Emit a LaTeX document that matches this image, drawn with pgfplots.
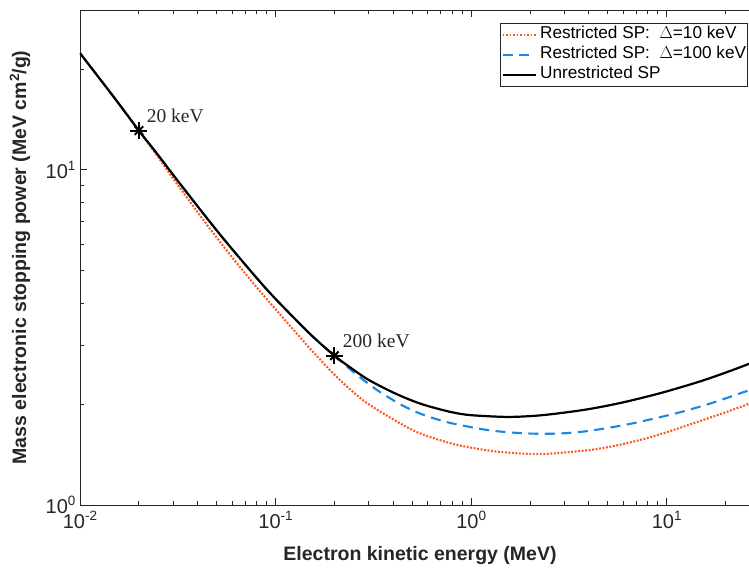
\documentclass[border=0pt]{standalone}
\usepackage{fontspec}
\setmainfont{Liberation Sans}
\newfontfamily\timesfont{Liberation Serif}
\usepackage{pgfplots}
\pgfplotsset{compat=1.18}
\definecolor{myorange}{RGB}{255,85,25}
\definecolor{myblue}{RGB}{25,135,230}
\definecolor{axgray}{RGB}{38,38,38}
\newcommand{\tl}[1]{10\raisebox{8pt}{\fontsize{13.5}{13.5}\selectfont #1}}

\begin{document}
\begin{tikzpicture}[x=1pt,y=1pt]
\begin{axis}[
 at={(80pt,69pt)}, anchor=south west,
 scale only axis, width=680pt, height=495pt,
 xmode=log, ymode=log, xmin=0.01, xmax=30, ymin=1, ymax=30,
 xtick={0.01,0.1,1,10}, xticklabels={\tl{-2},\tl{-1},\tl{0},\tl{1}},
 ytick={1,10}, yticklabels={\tl{0},\tl{1}},
 minor xtick={0.02,0.03,0.04,0.05,0.06,0.07,0.08,0.09,0.2,0.3,0.4,0.5,0.6,0.7,0.8,0.9,2,3,4,5,6,7,8,9,20,30},
 minor ytick={2,3,4,5,6,7,8,9,20,30},
 tick align=inside, major tick length=7pt, minor tick length=4pt,
 axis line style={axgray, line width=0.8pt},
 every tick/.style={axgray, line width=0.8pt},
 ticklabel style={font=\fontsize{20}{22}\selectfont, text=axgray},
 xticklabel style={yshift=-3pt},
 yticklabel style={xshift=-1pt},
 xlabel={\bfseries Electron kinetic energy (MeV)},
 ylabel={\bfseries Mass electronic stopping power (MeV cm\raisebox{7pt}{\fontsize{13.5}{13.5}\selectfont 2}/g)},
 label style={font=\fontsize{19.5}{22}\selectfont, text=axgray},
 xlabel style={at={(axis description cs:0.5,-0.103)}, anchor=center},
 ylabel style={at={(axis description cs:-0.0882,0.5)}, anchor=center},
 legend style={at={(rel axis cs:0.98235,0.9737)}, anchor=north east,
   draw=axgray, line width=0.8pt, fill=white,
   font=\fontsize{17.2}{21}\selectfont, inner xsep=1.5pt, inner ysep=2.5pt,
   row sep=2pt, nodes={inner sep=0pt, text height=13pt, text depth=5pt},
   /tikz/every odd column/.append style={column sep=3.5pt}},
 legend cell align=left,
 legend image code/.code={\draw[#1] (0pt,0pt) -- (33pt,0pt);},
]
\addplot[myorange, line width=2.1pt, dash pattern=on 1.9pt off 1.6pt, smooth] coordinates {
(0.01,22.3) (0.015,16.4) (0.02,13.1) (0.025,10.96) (0.03,9.41) (0.04,7.47) (0.05,6.28) (0.06,5.48) (0.08,4.465) (0.1,3.84) (0.15,2.93) (0.2,2.45) (0.25,2.17) (0.3,1.997) (0.4,1.80) (0.5,1.675) (0.6,1.604) (0.8,1.524) (1.0,1.483) (1.39,1.441) (2.23,1.419) (3.71,1.451) (5,1.488) (6.68,1.543) (9,1.618) (12.05,1.71) (20,1.891) (26.4,2.005) (30,2.062)};
\addlegendentry{Restricted SP:\ \ $\Delta$=10 keV}
\addplot[myblue, line width=2.1pt, dash pattern=on 10pt off 6.5pt, smooth] coordinates {
(0.01,22.3) (0.015,16.4) (0.02,13.1) (0.025,11.1) (0.03,9.65) (0.04,7.78) (0.05,6.60) (0.06,5.80) (0.08,4.76) (0.1,4.12) (0.15,3.24) (0.2,2.79) (0.25,2.495) (0.3,2.295) (0.35,2.154) (0.433,2.00) (0.5,1.918) (0.6,1.839) (0.781,1.758) (1.143,1.683) (1.5,1.651) (2.06,1.633) (2.8,1.634) (3.71,1.655) (5,1.698) (6.68,1.752) (9,1.822) (12.05,1.900) (17,2.015) (23.5,2.15) (26.4,2.199) (30,2.258)};
\addlegendentry{Restricted SP:\ \ $\Delta$=100 keV}
\addplot[black, line width=2.2pt, smooth] coordinates {
(0.01,22.3) (0.015,16.4) (0.02,13.1) (0.025,11.1) (0.03,9.65) (0.04,7.78) (0.05,6.60) (0.06,5.80) (0.08,4.76) (0.1,4.12) (0.15,3.24) (0.2,2.79) (0.25,2.534) (0.3,2.36) (0.4,2.165) (0.5,2.048) (0.6,1.975) (0.8,1.891) (1.0,1.854) (1.5,1.832) (2.0,1.842) (2.5,1.863) (3.5,1.910) (4.5,1.957) (6,2.025) (8,2.109) (10,2.183) (14.65,2.333) (20,2.483) (26.4,2.639) (30,2.719)};
\addlegendentry{Unrestricted SP}
\addplot[only marks, mark=+, mark size=8.5pt, line width=2pt, black, forget plot] coordinates {(0.02,13.1) (0.2,2.79)};
\addplot[only marks, mark=x, mark size=6pt, line width=2pt, black, forget plot] coordinates {(0.02,13.1) (0.2,2.79)};
\node[anchor=base west, inner sep=0pt, font=\timesfont\fontsize{19.5}{22}\selectfont, text=axgray] at (axis cs:0.02193,13.83) {20 keV};
\node[anchor=base west, inner sep=0pt, font=\timesfont\fontsize{19.5}{22}\selectfont, text=axgray] at (axis cs:0.2207,2.947) {200 keV};
\end{axis}
\pgfresetboundingbox
\path[use as bounding box] (0,0) rectangle (749,574);
\end{tikzpicture}
\end{document}
